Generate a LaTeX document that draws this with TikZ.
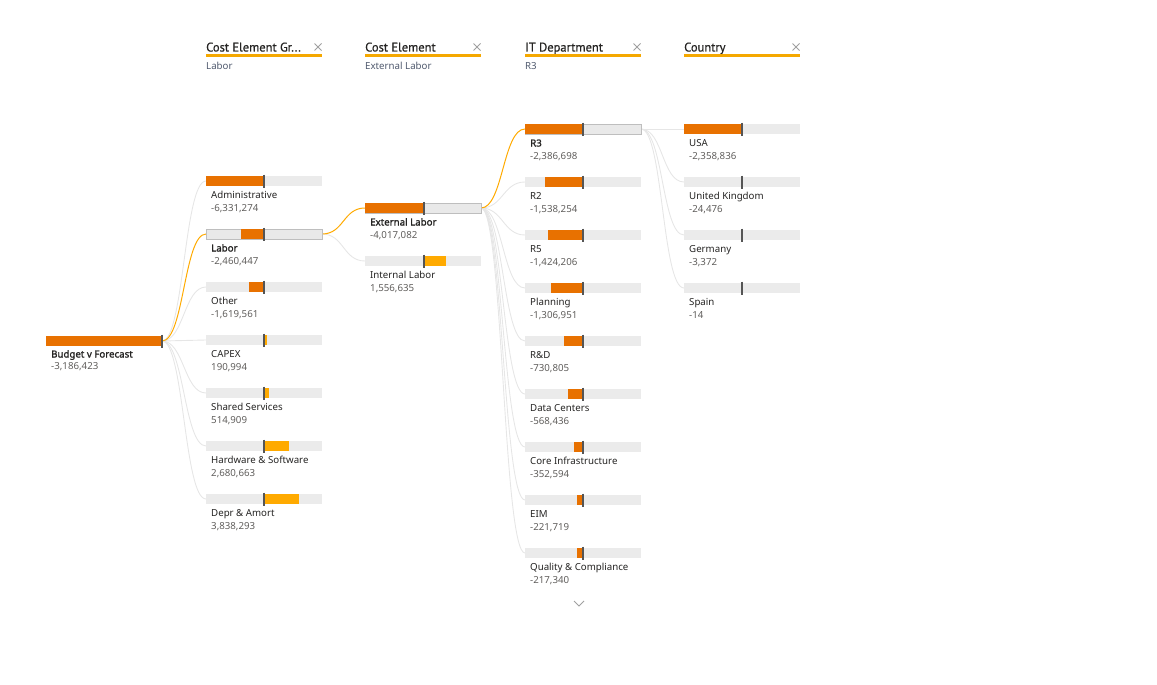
\documentclass[tikz,border=0pt]{standalone}
\usepackage{fontspec}
\setmainfont{Noto Sans}
\newfontfamily\boldfnt{Noto Sans}[FakeBold=1.6]
\newfontfamily\hdrfont{PT Sans}[FakeBold=0.6]
\usetikzlibrary{backgrounds}
\definecolor{darkor}{RGB}{232,113,0}
\definecolor{amber}{RGB}{255,170,0}
\definecolor{barbg}{RGB}{235,235,235}
\definecolor{selbg}{RGB}{233,233,233}
\definecolor{selbd}{RGB}{190,190,190}
\definecolor{mkcol}{RGB}{85,85,85}
\definecolor{conngray}{RGB}{230,230,230}
\definecolor{nametext}{RGB}{37,36,35}
\definecolor{valtext}{RGB}{96,94,92}
\definecolor{subtext}{RGB}{80,90,110}
\definecolor{xgray}{RGB}{160,160,160}
\definecolor{hdrline}{RGB}{245,168,0}
\newcommand\ofill[4]{\fill[#4] (#1,#3-5) rectangle (#2,#3+5);}
\newcommand\mkline[2]{\draw[mkstyle] (#1,#2-6.5) -- (#1,#2+6.5);}
\newcommand\xicon[2]{\draw[xgray,line width=0.9pt] (#1-3.5,#2-3.5) -- (#1+3.5,#2+3.5) (#1-3.5,#2+3.5) -- (#1+3.5,#2-3.5);}
\begin{document}
\begin{tikzpicture}[x=1pt,y=-1pt,
 bar/.style={fill=barbg,minimum width=116pt,minimum height=10pt,inner sep=0pt,outer sep=0pt,anchor=west},
 selbar/.style={bar,fill=selbg,draw=selbd,line width=0.8pt},
 mkstyle/.style={draw=mkcol,line width=1.6pt},
 conn/.style={draw=conngray,line width=0.9pt},
 connsel/.style={draw=amber,line width=1pt},
 nm/.style={anchor=base west,inner sep=0pt,font=\fontsize{9.7}{11}\selectfont,text=nametext},
 nmb/.style={nm,font=\boldfnt\fontsize{9.7}{11}\selectfont},
 vl/.style={nm,text=valtext},
 hdr/.style={anchor=base west,inner sep=0pt,font=\hdrfont\fontsize{12.5}{14}\selectfont,text=nametext},
 sub/.style={anchor=base west,inner sep=0pt,font=\fontsize{9.7}{11}\selectfont,text=subtext},
]
\useasboundingbox (0,0) rectangle (1157,685);

% headers
\foreach \hx/\htxt/\stxt [count=\i] in {206/{Cost Element Gr...}/Labor,365/{Cost Element}/{External Labor},525/{IT Department}/R3,684/{Country}/{}}{
  \node[hdr] (h\i) at (\hx,51.5) {\htxt};
  \node[sub] (s\i) at (\hx,69.5) {\stxt};
  \fill[hdrline] (\hx,54.2) rectangle (\hx+116,57.2);
  \xicon{\hx+112}{47}
}

% root
\node[bar,fill=darkor] (root) at (46,341) {};
\mkline{162}{341}
\node[nmb] (rootn) at (51,357.5) {Budget v Forecast};
\node[vl] (rootv) at (51,369.5) {-3,186,423};

% column 2
\node[bar] (adm) at (206,181) {}; \ofill{206}{264}{181}{darkor} \mkline{264}{181}
\node[selbar] (lab) at (206,234) {}; \ofill{241}{264}{234}{darkor} \mkline{264}{234}
\node[bar] (oth) at (206,287) {}; \ofill{249}{264}{287}{darkor} \mkline{264}{287}
\node[bar] (cap) at (206,340) {}; \ofill{264}{266.5}{340}{amber} \mkline{264}{340}
\node[bar] (shs) at (206,393) {}; \ofill{264}{269}{393}{amber} \mkline{264}{393}
\node[bar] (hws) at (206,446) {}; \ofill{264}{289}{446}{amber} \mkline{264}{446}
\node[bar] (dep) at (206,499) {}; \ofill{264}{299}{499}{amber} \mkline{264}{499}
\foreach \nn/\yy/\tt/\vv in {adm/181/Administrative/{-6,331,274},oth/287/Other/{-1,619,561},cap/340/CAPEX/{190,994},shs/393/Shared Services/{514,909},hws/446/Hardware \& Software/{2,680,663},dep/499/Depr \& Amort/{3,838,293}}{
  \node[nm] (\nn n) at (211,\yy+17.5) {\tt};
  \node[vl] (\nn v) at (211,\yy+30) {\vv};
}
\node[nmb] (labn) at (211,251.5) {Labor};
\node[vl] (labv) at (211,264) {-2,460,447};

% column 3
\node[selbar] (ext) at (365,208) {}; \ofill{365}{424}{208}{darkor} \mkline{424}{208}
\node[bar] (int) at (365,261) {}; \ofill{424}{446}{261}{amber} \mkline{424}{261}
\node[nmb] (extn) at (370,225.5) {External Labor};
\node[vl] (extv) at (370,238) {-4,017,082};
\node[nm] (intn) at (370,278.5) {Internal Labor};
\node[vl] (intv) at (370,291) {1,556,635};

% column 4
\node[selbar] (r3) at (525,129) {}; \ofill{525}{583}{129}{darkor} \mkline{583}{129}
\node[nmb] (r3n) at (530,146.5) {R3};
\node[vl] (r3v) at (530,159) {-2,386,698};
\foreach \nn/\yy/\ff/\tt/\vv in {r2/182/545/R2/{-1,538,254},r5/235/548/R5/{-1,424,206},pla/288/551/Planning/{-1,306,951},rnd/341/564/R\&D/{-730,805},dc/394/568/Data Centers/{-568,436},ci/447/574/Core Infrastructure/{-352,594},eim/500/577/EIM/{-221,719},qc/553/577/Quality \& Compliance/{-217,340}}{
  \node[bar] (\nn) at (525,\yy) {}; \ofill{\ff}{583}{\yy}{darkor} \mkline{583}{\yy}
  \node[nm] (\nn n) at (530,\yy+17.5) {\tt};
  \node[vl] (\nn v) at (530,\yy+30) {\vv};
}

% column 5
\node[bar] (usa) at (684,129) {}; \ofill{684}{742}{129}{darkor} \mkline{742}{129}
\node[nm] (usan) at (689,146.5) {USA};
\node[vl] (usav) at (689,159) {-2,358,836};
\foreach \nn/\yy/\tt/\vv in {uk/182/United Kingdom/{-24,476},ger/235/Germany/{-3,372},spa/288/Spain/{-14}}{
  \node[bar] (\nn) at (684,\yy) {}; \mkline{742}{\yy}
  \node[nm] (\nn n) at (689,\yy+17.5) {\tt};
  \node[vl] (\nn v) at (689,\yy+30) {\vv};
}

% more chevron
\coordinate (chl) at (574,601);
\coordinate (chm) at (579,606);
\coordinate (chr) at (584,601);
\draw[xgray,line width=0.9pt] (chl) -- (chm) -- (chr);

% connectors
\begin{pgfonlayer}{background}
\foreach \cc in {adm,oth,cap,shs,hws,dep}{
  \draw[conn] (root.east) .. controls +(22,0) and +(-22,0) .. (\cc.west);
}
\draw[conn] (lab.east) .. controls +(22,0) and +(-22,0) .. (int.west);
\foreach \cc in {r2,r5,pla,rnd,dc,ci,eim,qc}{
  \draw[conn] (ext.east) .. controls +(22,0) and +(-22,0) .. (\cc.west);
}
\foreach \cc in {usa,uk,ger,spa}{
  \draw[conn] (r3.east) .. controls +(22,0) and +(-22,0) .. (\cc.west);
}
\draw[connsel] (root.east) .. controls +(22,0) and +(-22,0) .. (lab.west);
\draw[connsel] (lab.east) .. controls +(22,0) and +(-22,0) .. (ext.west);
\draw[connsel] (ext.east) .. controls +(22,0) and +(-22,0) .. (r3.west);
\end{pgfonlayer}
\end{tikzpicture}
\end{document}
